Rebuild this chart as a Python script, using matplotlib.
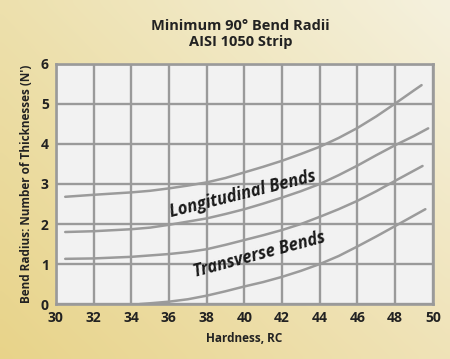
import numpy as np
import matplotlib
matplotlib.use("Agg")
import matplotlib.pyplot as plt

plt.rcParams['font.family'] = ['Open Sans', 'DejaVu Sans']

# values
long_upper_x = [30.5, 32, 34, 35, 36, 37, 38, 39, 40, 41, 42, 43, 44, 45, 46, 47, 48, 49, 49.4]
long_upper_y = [2.68, 2.73, 2.79, 2.83, 2.89, 2.96, 3.04, 3.15, 3.29, 3.43, 3.58, 3.75, 3.93,
                4.15, 4.40, 4.69, 5.01, 5.34, 5.47]

long_lower_x = [30.5, 32, 34, 35, 36, 37, 38, 39, 40, 41, 42, 43, 44, 45, 46, 47, 48, 49, 49.75]
long_lower_y = [1.80, 1.82, 1.87, 1.91, 1.98, 2.06, 2.14, 2.25, 2.37, 2.51, 2.66, 2.82, 3.00,
                3.22, 3.46, 3.72, 3.97, 4.20, 4.39]

trans_upper_x = [30.5, 32, 34, 36, 37, 38, 39, 40, 41, 42, 43, 44, 45, 46, 47, 48, 49.45]
trans_upper_y = [1.13, 1.14, 1.18, 1.25, 1.30, 1.37, 1.48, 1.60, 1.72, 1.85, 2.00, 2.18, 2.37,
                 2.58, 2.82, 3.08, 3.45]

trans_lower_x = [34.45, 35, 36, 37, 38, 39, 40, 41, 42, 43, 44, 45, 46, 47, 48, 49.6]
trans_lower_y = [0.0, 0.02, 0.06, 0.12, 0.21, 0.32, 0.44, 0.55, 0.68, 0.83, 1.00, 1.20, 1.44,
                 1.69, 1.95, 2.37]

x_ticks = list(range(30, 51, 2))
y_ticks = list(range(0, 7))

title = "Minimum 90\u00b0 Bend Radii\nAISI 1050 Strip"
x_label = "Hardness, RC"
y_label = "Bend Radius: Number of Thicknesses (N')"

fig = plt.figure(figsize=(4.5, 3.59), dpi=100)

# cream/yellow background gradient
bg = fig.add_axes([0, 0, 1, 1], zorder=-10)
corners = np.array([
    [[0.93, 0.88, 0.68], [0.96, 0.945, 0.87]],   # top-left, top-right
    [[0.91, 0.83, 0.54], [0.94, 0.89, 0.72]],    # bottom-left, bottom-right
])
ny, nx = 60, 80
ty = np.linspace(0, 1, ny)[:, None, None]
tx = np.linspace(0, 1, nx)[None, :, None]
img = ((1 - ty) * ((1 - tx) * corners[0, 0] + tx * corners[0, 1])
       + ty * ((1 - tx) * corners[1, 0] + tx * corners[1, 1]))
bg.imshow(img, aspect='auto', interpolation='bicubic', extent=[0, 1, 0, 1])
bg.axis('off')

ax = fig.add_axes([0.124, 0.153, 0.838, 0.669])
ax.set_facecolor('#f2f2f2')
ax.set_xlim(30, 50)
ax.set_ylim(0, 6)
ax.set_xticks(x_ticks)
ax.set_yticks(y_ticks)
ax.tick_params(length=0, labelsize=10, colors='#222222', pad=5)
for lab in ax.get_xticklabels() + ax.get_yticklabels():
    lab.set_fontweight('bold')
ax.grid(True, color='#9a9a9a', linewidth=1.7)
ax.set_axisbelow(True)
for s in ax.spines.values():
    s.set_color('#9a9a9a')
    s.set_linewidth(1.9)

curve_style = dict(color='#9b9b9b', linewidth=1.8, solid_capstyle='round',
                   solid_joinstyle='round')
for xs, ys in [(long_upper_x, long_upper_y), (long_lower_x, long_lower_y),
               (trans_upper_x, trans_upper_y), (trans_lower_x, trans_lower_y)]:
    ax.plot(xs, ys, **curve_style)

ax.text(39.9, 2.75, "Longitudinal Bends", rotation=14, ha='center', va='center',
        fontsize=12, fontweight='bold', fontstyle='italic', color='#1a1a1a')
ax.text(40.8, 1.23, "Transverse Bends", rotation=15, ha='center', va='center',
        fontsize=12, fontweight='bold', fontstyle='italic', color='#1a1a1a')

ax.set_xlabel(x_label, fontsize=8.5, fontweight='bold', color='#222222', labelpad=5)
ax.set_ylabel(y_label, fontsize=8.5, fontweight='bold', color='#222222', labelpad=6)

fig.text(0.535, 0.905, title, ha='center', va='center', fontsize=10.5,
         fontweight='bold', color='#222222', linespacing=1.2)

fig.savefig("out.png", dpi=100)
